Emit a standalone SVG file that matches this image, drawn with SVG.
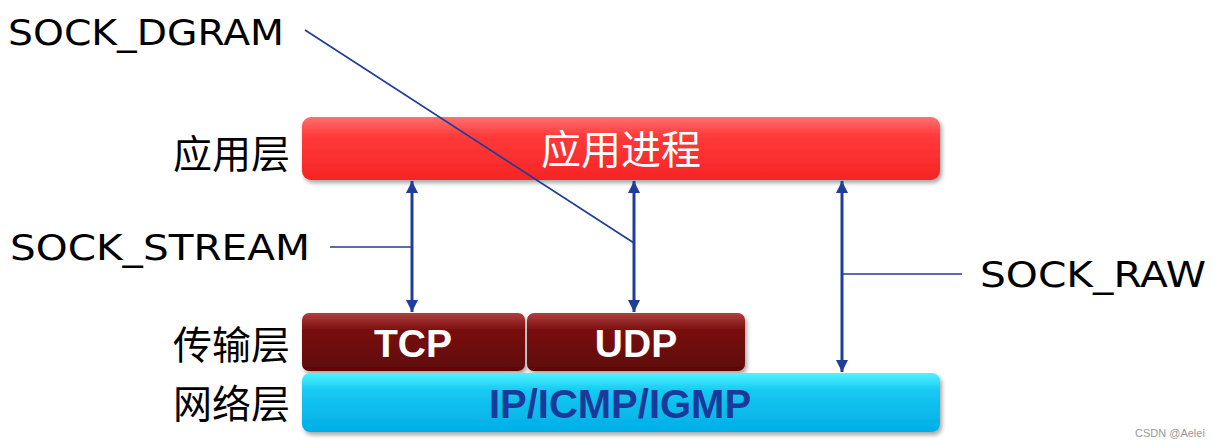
<svg xmlns="http://www.w3.org/2000/svg" width="1213" height="446" viewBox="0 0 1213 446">
<style>
.lbl{font-family:"DejaVu Sans","Liberation Sans",sans-serif;font-size:35px;fill:#000}
.cn{font-family:"Noto Sans CJK SC",sans-serif;font-size:39px;fill:#000}
.boxt{font-family:"Liberation Sans",Arial,sans-serif;font-weight:bold;font-size:39px;text-anchor:middle}
.arr{stroke:#1f3d99;stroke-width:3;fill:none}
.thin{stroke:#1f3d99;stroke-width:1.7;fill:none}
</style>
<defs>
<linearGradient id="gRed" x1="0" y1="0" x2="0" y2="1">
<stop offset="0" stop-color="#ff7070"/><stop offset="0.3" stop-color="#ff3a3a"/><stop offset="1" stop-color="#f62424"/>
</linearGradient>
<linearGradient id="gDark" x1="0" y1="0" x2="0" y2="1">
<stop offset="0" stop-color="#b04040"/><stop offset="0.3" stop-color="#7a0e0e"/><stop offset="1" stop-color="#5e0606"/>
</linearGradient>
<linearGradient id="gBlue" x1="0" y1="0" x2="0" y2="1">
<stop offset="0" stop-color="#50f4ff"/><stop offset="0.3" stop-color="#16c8f2"/><stop offset="1" stop-color="#00aee6"/>
</linearGradient>
<filter id="sh" x="-5%" y="-20%" width="110%" height="150%">
<feDropShadow dx="2" dy="3" stdDeviation="2" flood-color="#000" flood-opacity="0.35"/>
</filter>
<marker id="ah" viewBox="0 0 12 12" refX="12" refY="6" markerWidth="12" markerHeight="12" markerUnits="userSpaceOnUse" orient="auto-start-reverse">
<path d="M0,0 L12,6 L0,12 z" fill="#1f3d99"/>
</marker>
</defs>
<g id="app">
<rect x="302" y="117" width="638" height="63" rx="9" fill="url(#gRed)" filter="url(#sh)"/>
<text x="621" y="164" class="cn" style="fill:#fff;font-size:40px;text-anchor:middle">应用进程</text>
</g>
<g id="tcp">
<rect x="302" y="313" width="223" height="58" rx="7" fill="url(#gDark)" filter="url(#sh)"/>
<text x="413" y="357" class="boxt" fill="#fff">TCP</text>
</g>
<g id="udp">
<rect x="527" y="313" width="218" height="58" rx="7" fill="url(#gDark)" filter="url(#sh)"/>
<text x="636" y="357" class="boxt" fill="#fff">UDP</text>
</g>
<g id="ip">
<rect x="302" y="373" width="638" height="59" rx="8" fill="url(#gBlue)" filter="url(#sh)"/>
<text x="620" y="418" class="boxt" fill="#1a3a9a" style="font-size:40px">IP/ICMP/IGMP</text>
</g>
<g id="labels">
<text x="290" y="168" class="cn" text-anchor="end">应用层</text>
<text x="290" y="359" class="cn" text-anchor="end">传输层</text>
<text x="290" y="418" class="cn" text-anchor="end">网络层</text>
<text x="8" y="45" class="lbl" textLength="276" lengthAdjust="spacingAndGlyphs">SOCK_DGRAM</text>
<text x="10" y="260" class="lbl" textLength="300" lengthAdjust="spacingAndGlyphs">SOCK_STREAM</text>
<text x="980" y="287" class="lbl" textLength="226" lengthAdjust="spacingAndGlyphs">SOCK_RAW</text>
<text x="1135" y="437" style="font-family:'Liberation Sans',sans-serif;font-size:11px;fill:#999">CSDN @Aelei</text>
</g>
<g id="connectors">
<line x1="412" y1="181" x2="412" y2="312" class="arr" marker-start="url(#ah)" marker-end="url(#ah)"/>
<line x1="634" y1="181" x2="634" y2="312" class="arr" marker-start="url(#ah)" marker-end="url(#ah)"/>
<line x1="842" y1="181" x2="842" y2="372" class="arr" marker-start="url(#ah)" marker-end="url(#ah)"/>
<line x1="305" y1="30" x2="634" y2="243" class="thin"/>
<line x1="330" y1="247" x2="412" y2="247" class="thin"/>
<line x1="842" y1="274" x2="962" y2="274" class="thin"/>
</g>
</svg>
